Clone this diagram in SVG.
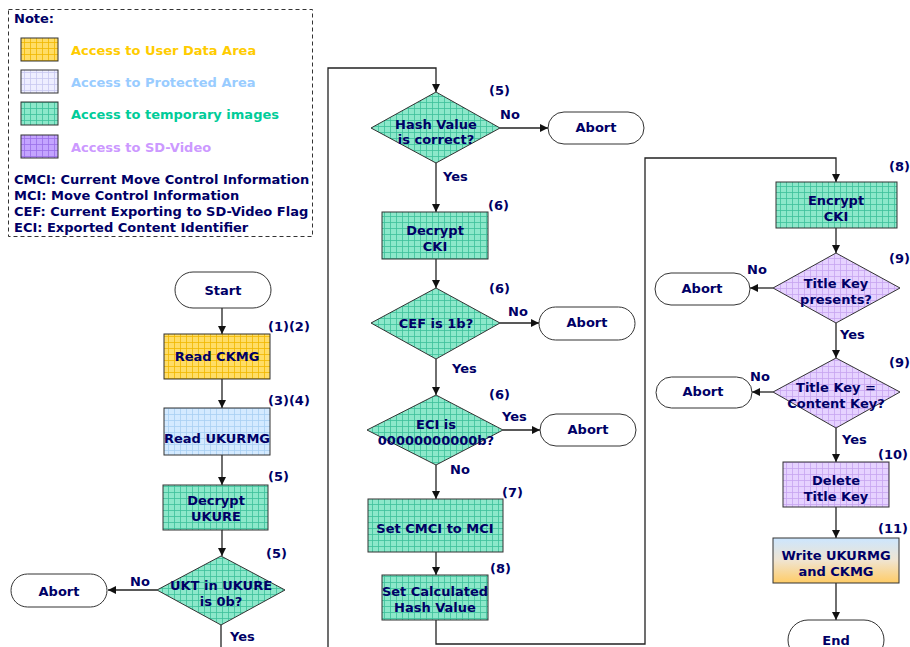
<svg xmlns="http://www.w3.org/2000/svg" width="910" height="647" viewBox="0 0 910 647">
<style>
text{font-family:"DejaVu Sans","Liberation Sans",sans-serif;font-weight:bold;font-size:13px;fill:#000066}
.c{text-anchor:middle}
.n{stroke:#333;stroke-width:1}
.t{fill:#fff;stroke:#333;stroke-width:1}
.ln{fill:none;stroke:#222;stroke-width:1.3}
.ar{fill:none;stroke:#222;stroke-width:1.3;marker-end:url(#ah)}
</style>
<defs>
<marker id="ah" viewBox="0 0 10 10" refX="10" refY="5" markerWidth="8" markerHeight="8" markerUnits="userSpaceOnUse" orient="auto"><path d="M0,0 L10,5 L0,10 z" fill="#111"/></marker>
<pattern id="pY" width="6" height="6" patternUnits="userSpaceOnUse"><rect width="6" height="6" fill="#FFDD66"/><path d="M0,0.5H6M0.5,0V6" stroke="#F0B800" stroke-width="0.8"/></pattern>
<pattern id="pB" width="6" height="6" patternUnits="userSpaceOnUse"><rect width="6" height="6" fill="#D4EAFF"/><path d="M0,0.5H6M0.5,0V6" stroke="#A8CFF2" stroke-width="0.8"/></pattern>
<pattern id="pL" width="6" height="6" patternUnits="userSpaceOnUse"><rect width="6" height="6" fill="#EEEEFF"/><path d="M0,0.5H6M0.5,0V6" stroke="#C8C8F0" stroke-width="0.8"/></pattern>
<pattern id="pG" width="6" height="6" patternUnits="userSpaceOnUse"><rect width="6" height="6" fill="#8CE8CA"/><path d="M0,0.5H6M0.5,0V6" stroke="#3CC09A" stroke-width="0.8"/></pattern>
<pattern id="pP" width="6" height="6" patternUnits="userSpaceOnUse"><rect width="6" height="6" fill="#E6D2FF"/><path d="M0,0.5H6M0.5,0V6" stroke="#C6A4F0" stroke-width="0.8"/></pattern>
<pattern id="pV" width="6" height="6" patternUnits="userSpaceOnUse"><rect width="6" height="6" fill="#C4A4FF"/><path d="M0,0.5H6M0.5,0V6" stroke="#9A70E8" stroke-width="0.8"/></pattern>
<linearGradient id="gW" x1="0" y1="0" x2="0" y2="1"><stop offset="0" stop-color="#CCE6FF"/><stop offset="0.5" stop-color="#F0E4D0"/><stop offset="1" stop-color="#FFCC66"/></linearGradient>
</defs>

<g id="legend">
<rect x="8.5" y="9.5" width="304" height="227" fill="none" stroke="#333" stroke-dasharray="4,3"/>
<text x="14" y="23">Note:</text>
<rect x="21" y="38" width="37" height="23" fill="url(#pY)" stroke="#333"/>
<text x="71" y="55" style="fill:#FFCC00">Access to User Data Area</text>
<rect x="21" y="70" width="37" height="23" fill="url(#pL)" stroke="#333"/>
<text x="71" y="87" style="fill:#99CCFF">Access to Protected Area</text>
<rect x="21" y="102" width="37" height="23" fill="url(#pG)" stroke="#333"/>
<text x="71" y="119" style="fill:#00CC99">Access to temporary images</text>
<rect x="21" y="135" width="37" height="23" fill="url(#pV)" stroke="#333"/>
<text x="71" y="152" style="fill:#CC99FF">Access to SD-Video</text>
<text x="14" y="184">CMCI: Current Move Control Information</text>
<text x="14" y="200">MCI: Move Control Information</text>
<text x="14" y="216">CEF: Current Exporting to SD-Video Flag</text>
<text x="14" y="232">ECI: Exported Content Identifier</text>
</g>

<g id="connectors">
<path class="ar" d="M222,308V334"/>
<path class="ar" d="M222,379V408"/>
<path class="ar" d="M222,455V485"/>
<path class="ar" d="M222,530V556"/>
<path class="ar" d="M157,590H108"/>
<path class="ln" d="M221,625V647"/>
<path class="ar" d="M328,647V68H436V92"/>
<path class="ar" d="M500,128H548"/>
<path class="ar" d="M436,163V212"/>
<path class="ar" d="M436,259V288"/>
<path class="ar" d="M500,323H539"/>
<path class="ar" d="M436,359V395"/>
<path class="ar" d="M503,430H540"/>
<path class="ar" d="M436,465V499"/>
<path class="ar" d="M436,552V575"/>
<path class="ar" d="M436,620V644H645V158H836V182"/>
<path class="ar" d="M836,228V253"/>
<path class="ar" d="M773,288H750"/>
<path class="ar" d="M836,323V358"/>
<path class="ar" d="M773,392H752"/>
<path class="ar" d="M836,428V462"/>
<path class="ar" d="M836,507V538"/>
<path class="ar" d="M836,583V620"/>
<text x="130" y="586">No</text>
<text x="230" y="641">Yes</text>
<text x="500" y="119">No</text>
<text x="443" y="181">Yes</text>
<text x="508" y="316">No</text>
<text x="452" y="373">Yes</text>
<text x="502" y="421">Yes</text>
<text x="450" y="474">No</text>
<text x="747" y="274">No</text>
<text x="840" y="339">Yes</text>
<text x="750" y="381">No</text>
<text x="842" y="444">Yes</text>
</g>

<g id="start"><rect class="t" x="175" y="272" width="96" height="36" rx="18"/><text class="c" x="223" y="295">Start</text></g>
<g id="readCKMG"><rect class="n" x="164" y="334" width="106" height="45" fill="url(#pY)"/><text class="c" x="217" y="361">Read CKMG</text><text x="268" y="331">(1)(2)</text></g>
<g id="readUKURMG"><rect class="n" x="164" y="408" width="106" height="47" fill="url(#pB)"/><text class="c" x="217" y="443">Read UKURMG</text><text x="268" y="405">(3)(4)</text></g>
<g id="decryptUKURE"><rect class="n" x="163" y="485" width="105" height="45" fill="url(#pG)"/><text class="c" x="216" y="505">Decrypt</text><text class="c" x="216" y="521">UKURE</text><text x="268" y="481">(5)</text></g>
<g id="ukt"><path class="n" d="M221,556L285,590L221,625L157,590Z" fill="url(#pG)"/><text class="c" x="221" y="590">UKT in UKURE</text><text class="c" x="221" y="606">is 0b?</text><text x="266" y="558">(5)</text></g>
<g id="abort1"><rect class="t" x="11" y="574" width="96" height="33" rx="16.5"/><text class="c" x="59" y="596">Abort</text></g>

<g id="hash"><path class="n" d="M436,92L500,128L436,163L371,128Z" fill="url(#pG)"/><text class="c" x="436" y="129">Hash Value</text><text class="c" x="436" y="144">is correct?</text><text x="489" y="95">(5)</text></g>
<g id="abort2"><rect class="t" x="548" y="112" width="96" height="32" rx="16"/><text class="c" x="596" y="132">Abort</text></g>
<g id="decryptCKI"><rect class="n" x="382" y="212" width="106" height="47" fill="url(#pG)"/><text class="c" x="435" y="235">Decrypt</text><text class="c" x="435" y="251">CKI</text><text x="488" y="210">(6)</text></g>
<g id="cef"><path class="n" d="M436,288L500,323L436,359L371,323Z" fill="url(#pG)"/><text class="c" x="436" y="328">CEF is 1b?</text><text x="489" y="293">(6)</text></g>
<g id="abort3"><rect class="t" x="539" y="307" width="96" height="33" rx="16.5"/><text class="c" x="587" y="327">Abort</text></g>
<g id="eci"><path class="n" d="M436,395L503,430L436,465L367,430Z" fill="url(#pG)"/><text class="c" x="436" y="429">ECI is</text><text class="c" x="436" y="445">00000000000b?</text><text x="489" y="399">(6)</text></g>
<g id="abort4"><rect class="t" x="540" y="414" width="96" height="32" rx="16"/><text class="c" x="588" y="434">Abort</text></g>
<g id="setCMCI"><rect class="n" x="368" y="499" width="135" height="53" fill="url(#pG)"/><text class="c" x="435" y="533">Set CMCI to MCI</text><text x="502" y="497">(7)</text></g>
<g id="setHash"><rect class="n" x="382" y="575" width="106" height="45" fill="url(#pG)"/><text class="c" x="435" y="596">Set Calculated</text><text class="c" x="435" y="612">Hash Value</text><text x="490" y="573">(8)</text></g>

<g id="encryptCKI"><rect class="n" x="776" y="182" width="121" height="46" fill="url(#pG)"/><text class="c" x="836" y="205">Encrypt</text><text class="c" x="836" y="221">CKI</text><text x="889" y="171">(8)</text></g>
<g id="tkPresent"><path class="n" d="M836,253L900,288L836,323L773,288Z" fill="url(#pP)"/><text class="c" x="836" y="288">Title Key</text><text class="c" x="836" y="304">presents?</text><text x="889" y="263">(9)</text></g>
<g id="abort5"><rect class="t" x="655" y="273" width="95" height="32" rx="16"/><text class="c" x="702" y="293">Abort</text></g>
<g id="tkEqual"><path class="n" d="M836,358L900,392L836,428L773,392Z" fill="url(#pP)"/><text class="c" x="836" y="392">Title Key =</text><text class="c" x="836" y="408">Content Key?</text><text x="889" y="367">(9)</text></g>
<g id="abort6"><rect class="t" x="656" y="377" width="96" height="31" rx="15.5"/><text class="c" x="703" y="396">Abort</text></g>
<g id="deleteTK"><rect class="n" x="783" y="462" width="106" height="45" fill="url(#pP)"/><text class="c" x="836" y="485">Delete</text><text class="c" x="836" y="501">Title Key</text><text x="908" y="459" text-anchor="end">(10)</text></g>
<g id="write"><rect class="n" x="773" y="538" width="126" height="45" fill="url(#gW)"/><text class="c" x="836" y="560">Write UKURMG</text><text class="c" x="836" y="576">and CKMG</text><text x="908" y="533" text-anchor="end">(11)</text></g>
<g id="end"><rect class="t" x="788" y="620" width="96" height="40" rx="20"/><text class="c" x="836" y="645">End</text></g>
</svg>
